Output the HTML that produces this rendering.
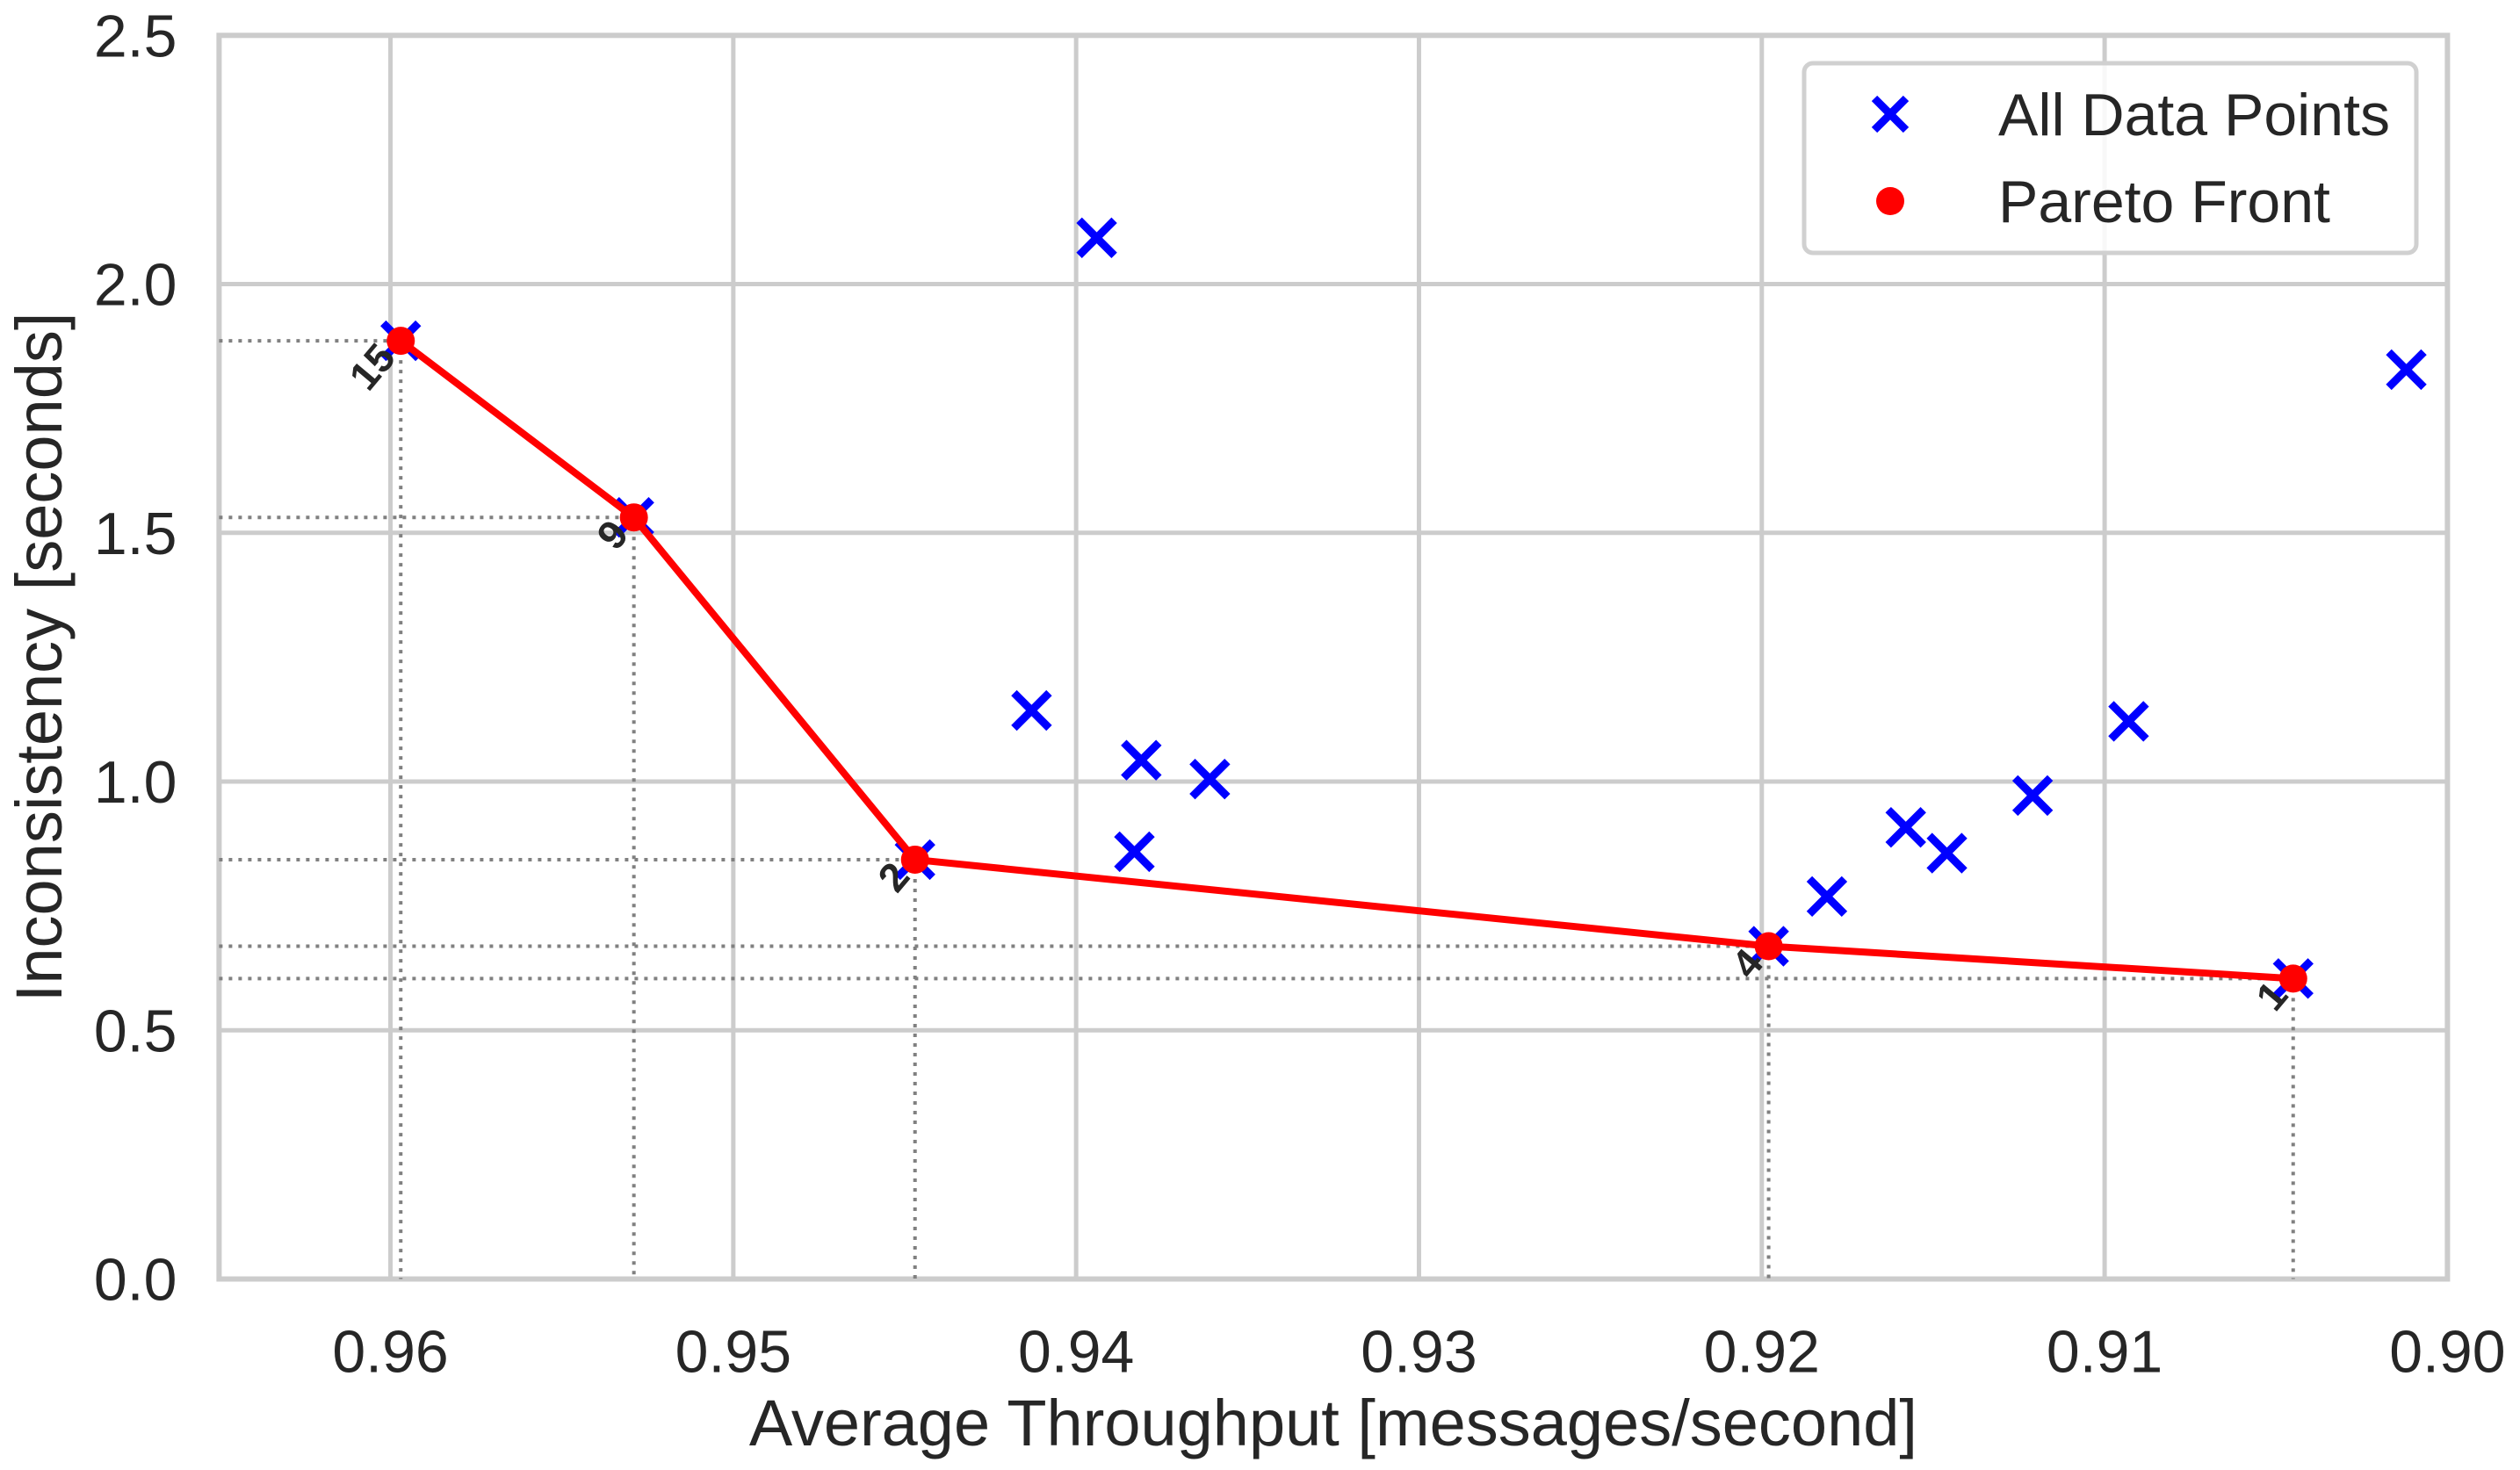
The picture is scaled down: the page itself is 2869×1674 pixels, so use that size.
<!DOCTYPE html>
<html><head><meta charset="utf-8"><style>
html,body{margin:0;padding:0;background:#fff;}
svg{display:block;font-family:"Liberation Sans",sans-serif;}
</style></head><body>
<svg id="chart" width="2869" height="1674" viewBox="0 0 2869 1674" xmlns="http://www.w3.org/2000/svg"></svg>
<script>
const allX = [0.9597,0.9529,0.9447,0.9413,0.9394,0.9383,0.9381,0.9361,0.9198,0.9181,0.9158,0.9146,0.9121,0.9093,0.9045,0.9012];
const allY = [1.886,1.531,0.843,1.143,2.093,0.859,1.043,1.005,0.669,0.769,0.908,0.856,0.972,1.121,0.604,1.828];
const paretoX = [0.9597,0.9529,0.9447,0.9198,0.9045];
const paretoY = [1.886,1.531,0.843,0.669,0.604];
const paretoLabels = ["15","9","2","4","1"];
const xTicks = [0.96,0.95,0.94,0.93,0.92,0.91,0.90];
const xTickLabels = ["0.96","0.95","0.94","0.93","0.92","0.91","0.90"];
const yTicks = [0,0.5,1.0,1.5,2.0,2.5];
const yTickLabels = ["0.0","0.5","1.0","1.5","2.0","2.5"];

const L=249.4,R=2786.4,T=40.3,B=1456.5;
const xMin=0.965,xMax=0.90,yMin=0,yMax=2.5;
function sx(v){return L+(xMin-v)/(xMin-xMax)*(R-L);}
function sy(v){return B-(v-yMin)/(yMax-yMin)*(B-T);}
const svg=document.getElementById('chart');
const NS='http://www.w3.org/2000/svg';
function mk(tag,attrs,parent){const e=document.createElementNS(NS,tag);for(const k in attrs)e.setAttribute(k,attrs[k]);(parent||svg).appendChild(e);return e;}

const grid=mk('g',{});


xTicks.forEach((t,i)=>{
  mk('line',{x1:sx(t),x2:sx(t),y1:T,y2:B,stroke:'#cccccc','stroke-width':5},grid);
  const tx=mk('text',{x:sx(t),y:B+106,'text-anchor':'middle','font-size':68,fill:'#262626'});
  tx.textContent=xTickLabels[i];
  
  
});
yTicks.forEach((t,i)=>{
  mk('line',{x1:L,x2:R,y1:sy(t),y2:sy(t),stroke:'#cccccc','stroke-width':5},grid);
  const tx=mk('text',{x:L-48,y:sy(t)+24,'text-anchor':'end','font-size':68,fill:'#262626'});
  tx.textContent=yTickLabels[i];
  
  
});
const frame=mk('rect',{x:L,y:T,width:R-L,height:B-T,fill:'none',stroke:'#cccccc','stroke-width':6});



paretoX.forEach((v,i)=>{
  const g=mk('g',{stroke:'#808080','stroke-width':4,'stroke-dasharray':'4 7'});
  
  
  mk('line',{x1:L,x2:sx(v),y1:sy(paretoY[i]),y2:sy(paretoY[i])},g);
  mk('line',{x1:sx(v),x2:sx(v),y1:sy(paretoY[i]),y2:B},g);
});

allX.forEach((v,i)=>{
  const cx=sx(v),cy=sy(allY[i]),s=20;
  const p=mk('path',{d:`M${cx-s},${cy-s}L${cx+s},${cy+s}M${cx-s},${cy+s}L${cx+s},${cy-s}`,stroke:'#0000ff','stroke-width':9,fill:'none'});
  
  
});

const pl=mk('polyline',{points:paretoX.map((v,i)=>sx(v)+','+sy(paretoY[i])).join(' '),stroke:'#ff0000','stroke-width':8,fill:'none','stroke-linejoin':'round'});


paretoX.forEach((v,i)=>{
  const c=mk('circle',{cx:sx(v),cy:sy(paretoY[i]),r:16,fill:'#ff0000'});
  
  
  const t=mk('text',{x:0,y:0,'font-size':46,'font-weight':'bold',fill:'#262626','text-anchor':'end',transform:`translate(${sx(v)-4},${sy(paretoY[i])+20}) rotate(-50)`});
  t.textContent=paretoLabels[i];
  
  
});

const xt=mk('text',{x:(L+R)/2,y:1646,'text-anchor':'middle','font-size':74,fill:'#262626'});
xt.textContent='Average Throughput [messages/second]';


const yt=mk('text',{x:0,y:0,'text-anchor':'middle','font-size':74,fill:'#262626',transform:`translate(70,${(T+B)/2}) rotate(-90)`});
yt.textContent='Inconsistency [seconds]';



const lg=mk('g',{});


mk('rect',{x:2054,y:72,width:697,height:216,rx:10,fill:'#ffffff','fill-opacity':0.85,stroke:'#d0d0d0','stroke-width':5},lg);
const lx=2152,ly1=130,ly2=229;
const le1=mk('g',{},lg);


mk('path',{d:`M${lx-18},${ly1-18}L${lx+18},${ly1+18}M${lx-18},${ly1+18}L${lx+18},${ly1-18}`,stroke:'#0000ff','stroke-width':9},le1);
const t1=mk('text',{x:2275,y:ly1+24,'font-size':68,fill:'#262626'},le1);t1.textContent='All Data Points';
const le2=mk('g',{},lg);


mk('circle',{cx:lx,cy:ly2,r:16,fill:'#ff0000'},le2);
const t2=mk('text',{x:2275,y:ly2+24,'font-size':68,fill:'#262626'},le2);t2.textContent='Pareto Front';
</script>
</body></html>
